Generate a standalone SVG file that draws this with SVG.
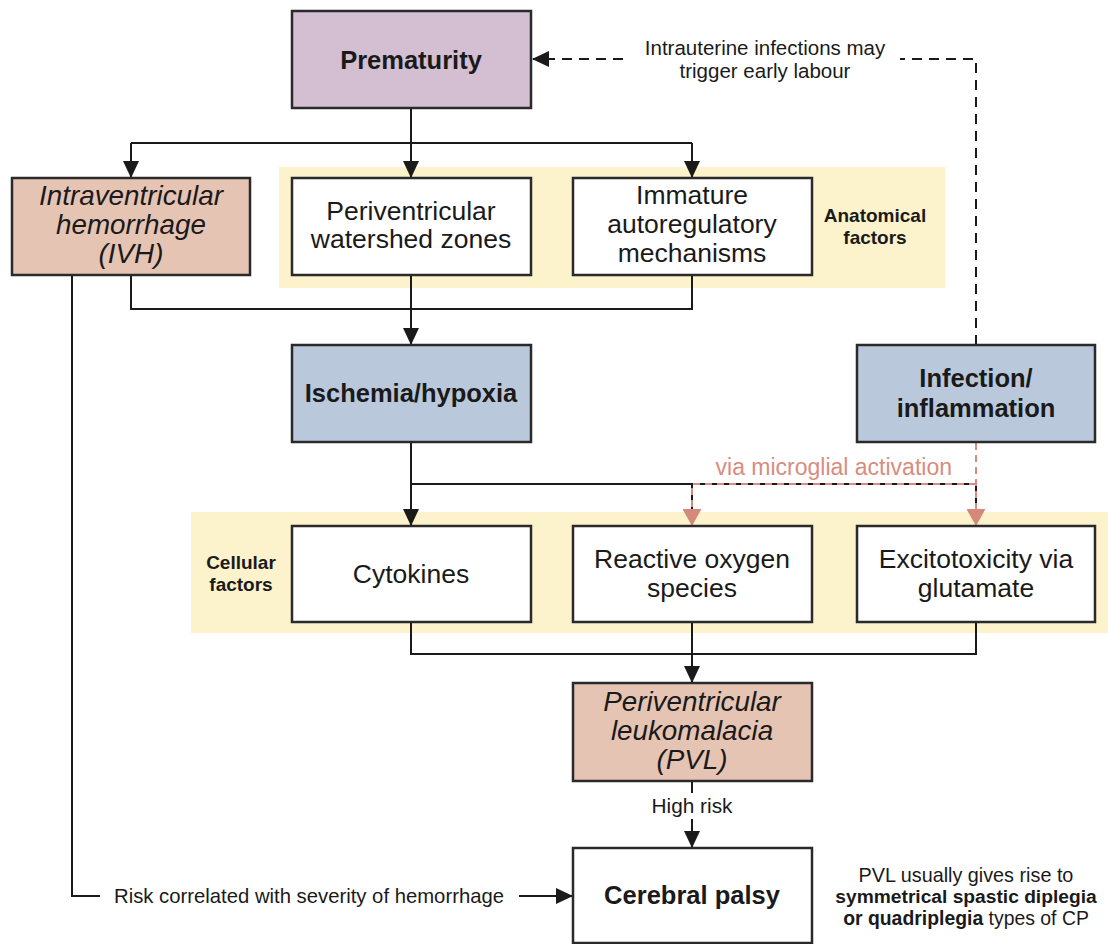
<svg xmlns="http://www.w3.org/2000/svg" width="1108" height="944" viewBox="0 0 1108 944">
  <defs>
    <marker id="arrow" markerUnits="userSpaceOnUse" markerWidth="17" markerHeight="16" viewBox="0 0 17 16" refX="16" refY="8" orient="auto">
      <path d="M0,0 L17,8 L0,16 z" fill="#1a1a1a"/>
    </marker>
    <marker id="arrowPink" markerUnits="userSpaceOnUse" markerWidth="17" markerHeight="19" viewBox="0 0 17 19" refX="16" refY="9.5" orient="auto">
      <path d="M0,0 L17,9.5 L0,19 z" fill="#d4897b"/>
    </marker>
    <style>
      .box { stroke: #2a2a2a; stroke-width: 2.5; }
      .plain { fill: #ffffff; }
      .purple { fill: #d3bed2; }
      .salmon { fill: #e6c4b4; }
      .blue { fill: #b9c9db; }
      .band { fill: #fcf2cb; }
      text { font-family: "Liberation Sans", Arial, sans-serif; fill: #1a1a1a; }
      .t { font-size: 26.5px; text-anchor: middle; }
      .ti { font-size: 27.8px; text-anchor: middle; font-style: italic; }
      .tb { font-size: 25.5px; text-anchor: middle; font-weight: bold; }
      .lab { font-size: 19px; text-anchor: middle; font-weight: bold; }
      .note { font-size: 20.5px; text-anchor: middle; }
      .line { fill: none; stroke: #1a1a1a; stroke-width: 2; }
      .dash { fill: none; stroke: #1a1a1a; stroke-width: 2; stroke-dasharray: 10 7; }
      .pink { fill: none; stroke: #d98c7e; stroke-width: 2; stroke-dasharray: 7 5; }
    </style>
  </defs>

  <!-- background bands -->
  <rect class="band" x="279" y="167" width="666" height="121"/>
  <rect class="band" x="191" y="512" width="917" height="121"/>
  <text class="lab" x="875" y="222">Anatomical</text>
  <text class="lab" x="875" y="244">factors</text>
  <text class="lab" x="241" y="569">Cellular</text>
  <text class="lab" x="241" y="591">factors</text>

  <!-- connectors -->
  <g id="connectors">
    <!-- prematurity fan-out -->
    <path class="line" d="M411,108 V143"/>
    <path class="line" d="M131,143 H692"/>
    <path class="line" d="M131,143 V177" marker-end="url(#arrow)"/>
    <path class="line" d="M411,143 V177" marker-end="url(#arrow)"/>
    <path class="line" d="M692,143 V177" marker-end="url(#arrow)"/>
    <!-- merge to ischemia -->
    <path class="line" d="M131,275 V309 H692 V275"/>
    <path class="line" d="M411,275 V344" marker-end="url(#arrow)"/>
    <!-- IVH to cerebral palsy -->
    <path class="line" d="M72,275 V896 H100"/>
    <path class="line" d="M519,896 H572" marker-end="url(#arrow)"/>
    <text x="114" y="903" style="font-size:20.3px">Risk correlated with severity of hemorrhage</text>
    <!-- infection to prematurity (dashed) -->
    <path class="dash" d="M976,345 V59 H900"/>
    <path class="dash" d="M623,59 H533" marker-end="url(#arrow)"/>
    <text class="note" x="765" y="55">Intrauterine infections may</text>
    <text class="note" x="765" y="78">trigger early labour</text>
    <!-- ischemia to cellular factors -->
    <path class="line" d="M411,442 V484 H976 V512"/>
    <path class="line" d="M692,484 V512"/>
    <path class="line" d="M411,484 V525" marker-end="url(#arrow)"/>
    <!-- infection via microglia -->
    <path class="pink" d="M976,443 V525" marker-end="url(#arrowPink)"/>
    <path class="pink" d="M976,484 H692 V525" marker-end="url(#arrowPink)"/>
    <text x="952" y="475" style="font-size:23px;fill:#d98c7e;text-anchor:end">via microglial activation</text>
    <!-- cellular factors to PVL -->
    <path class="line" d="M411,622 V654 H976 V622"/>
    <path class="line" d="M692,622 V682" marker-end="url(#arrow)"/>
    <!-- PVL to cerebral palsy -->
    <path class="line" d="M692,781 V793"/>
    <path class="line" d="M692,819 V847" marker-end="url(#arrow)"/>
    <text x="692" y="813" style="font-size:20.8px;text-anchor:middle">High risk</text>
  </g>

  <g id="prematurity">
    <rect class="box purple" x="292" y="11" width="239" height="97"/>
    <text class="tb" x="411" y="69">Prematurity</text>
  </g>

  <g id="ivh">
    <rect class="box salmon" x="12" y="178" width="238" height="97"/>
    <text class="ti" x="131" y="205">Intraventricular</text>
    <text class="ti" x="131" y="234">hemorrhage</text>
    <text class="ti" x="131" y="263">(IVH)</text>
  </g>

  <g id="watershed">
    <rect class="box plain" x="292" y="178" width="239" height="97"/>
    <text class="t" x="411" y="220">Periventricular</text>
    <text class="t" x="411" y="248">watershed zones</text>
  </g>

  <g id="autoregulation">
    <rect class="box plain" x="573" y="178" width="239" height="97"/>
    <text class="t" x="692" y="204">Immature</text>
    <text class="t" x="692" y="233">autoregulatory</text>
    <text class="t" x="692" y="262">mechanisms</text>
  </g>

  <g id="ischemia">
    <rect class="box blue" x="292" y="345" width="239" height="97"/>
    <text class="tb" x="411" y="402">Ischemia/hypoxia</text>
  </g>

  <g id="infection">
    <rect class="box blue" x="857" y="345" width="238" height="97"/>
    <text class="tb" x="976" y="387">Infection/</text>
    <text class="tb" x="976" y="417">inflammation</text>
  </g>

  <g id="cytokines">
    <rect class="box plain" x="292" y="526" width="239" height="96"/>
    <text class="t" x="411" y="583">Cytokines</text>
  </g>

  <g id="ros">
    <rect class="box plain" x="573" y="526" width="239" height="96"/>
    <text class="t" x="692" y="568">Reactive oxygen</text>
    <text class="t" x="692" y="597">species</text>
  </g>

  <g id="excitotoxicity">
    <rect class="box plain" x="857" y="526" width="238" height="96"/>
    <text class="t" x="976" y="568">Excitotoxicity via</text>
    <text class="t" x="976" y="597">glutamate</text>
  </g>

  <g id="pvl">
    <rect class="box salmon" x="573" y="683" width="239" height="98"/>
    <text class="ti" x="692" y="711">Periventricular</text>
    <text class="ti" x="692" y="740">leukomalacia</text>
    <text class="ti" x="692" y="769">(PVL)</text>
  </g>

  <g id="cerebral-palsy">
    <rect class="box plain" x="573" y="848" width="239" height="95"/>
    <text class="tb" x="692" y="904">Cerebral palsy</text>
  </g>

  <g id="cp-note" style="font-size:19.8px">
    <text x="966" y="882" style="text-anchor:middle">PVL usually gives rise to</text>
    <text x="966" y="903" style="text-anchor:middle;font-weight:bold;font-size:19.2px">symmetrical spastic diplegia</text>
    <text x="966" y="925" style="text-anchor:middle;font-size:19.4px"><tspan font-weight="bold">or quadriplegia</tspan> types of CP</text>
  </g>
</svg>
